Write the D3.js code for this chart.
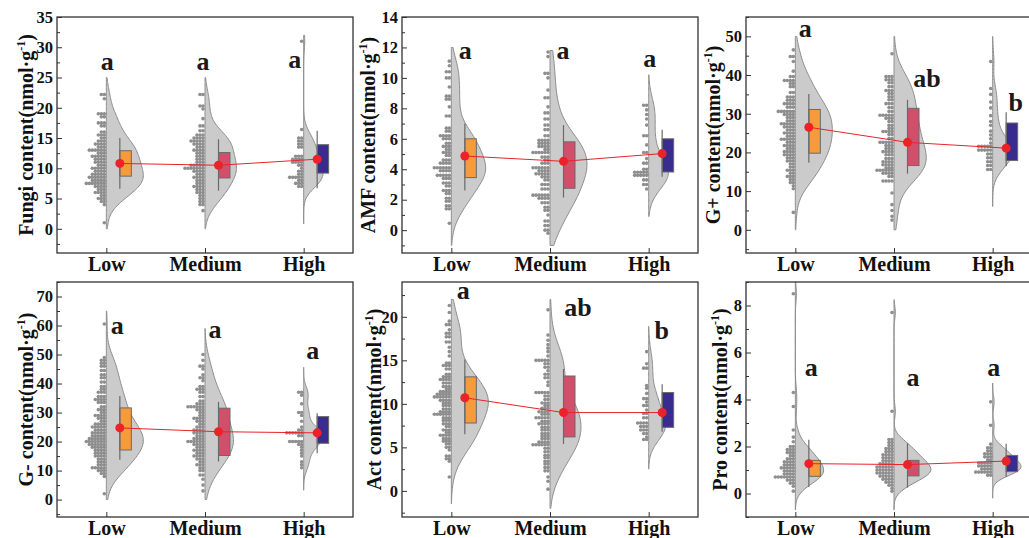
<!DOCTYPE html>
<html>
<head>
<meta charset="utf-8">
<script src="https://cdn.jsdelivr.net/npm/d3@7"></script>
<style>
  body { margin: 0; background: #fff; }
  text { font-family: "Liberation Serif", "Times New Roman", serif; font-weight: bold; }
</style>
</head>
<body>
<div id="chart"></div>
<script>
const groups = ["Low", "Medium", "High"];
const boxColors = ["#f59b3c", "#d24f6c", "#3a2b8f"];

// dot bins: [value, count]
const fungiLow = [[22.2,2],[21.5,1],[19,3],[18.5,2],[17.5,3],[17,2],[16,2],[15.5,3],[15,2],[14.5,3],[14,4],[13.5,3],[13,6],[12.5,3],[12,5],[11.5,4],[11,4],[10.5,3],[10,5],[9.5,4],[9,5],[8.5,6],[8,5],[7.5,7],[7,4],[6.5,3],[6,4],[5.5,2],[5,3],[4.5,2],[4,1],[1,1]];
const fungiMedium = [[22.2,2],[20.3,2],[19.8,1],[18.2,1],[17,2],[16.2,2],[15.5,3],[15,4],[14.5,5],[14,4],[13.5,3],[13,4],[12.5,3],[12,3],[11.5,3],[11,3],[10.5,5],[10,7],[9.5,4],[9,3],[8.5,4],[8,3],[7.5,3],[7,4],[6.5,3],[6,3],[5.5,2],[5,2],[4.5,2],[4,2],[3,1]];
const fungiHigh = [[31,1],[16.4,1],[15,2],[14.5,2],[14,2],[13.5,2],[12,3],[11.5,4],[11,4],[10.5,2],[10,1],[9.5,2],[9,2],[8.5,5],[8,2],[7.5,3],[7,2]];

const amfLow = [[11.1,1],[10.8,1],[10.4,2],[10.0,2],[9.4,1],[8.8,2],[8.6,2],[8.1,1],[7.5,2],[6.7,2],[6.5,2],[6.2,4],[6.0,3],[5.7,2],[5.5,3],[5.3,2],[5.1,3],[4.9,2],[4.6,3],[4.4,4],[4.1,6],[3.9,4],[3.6,5],[3.4,3],[3.1,3],[2.9,2],[2.6,3],[2.4,2],[2.1,2],[1.9,2],[1.6,2],[1.4,2],[0.45,1]];
const amfMedium = [[11.7,1],[11.4,1],[10.3,2],[10.0,1],[9.2,1],[8.7,2],[8.1,1],[7.7,2],[7.3,2],[6.9,2],[6.6,2],[6.2,2],[5.9,4],[5.7,4],[5.5,4],[5.3,2],[5.1,6],[4.8,3],[4.6,2],[4.4,3],[4.1,6],[3.9,4],[3.7,5],[3.5,3],[3.3,2],[3.0,3],[2.7,3],[2.3,6],[2.1,4],[1.8,3],[1.5,2],[1.3,2],[1.0,1],[0.6,2],[0.3,2],[0.0,2],[-0.2,1]];
const amfHigh = [[8.2,2],[7.9,1],[7.6,1],[7.3,1],[6.9,1],[6.2,2],[5.6,1],[5.1,2],[4.7,1],[4.4,2],[4.0,2],[3.8,5],[3.6,5],[3.3,2],[3.0,2],[2.7,1]];

const gposLow = [[46.5,1],[44.8,2],[43.5,1],[41,1],[39.6,2],[38.6,4],[37.8,2],[37,2],[35.5,2],[34.3,3],[33.5,3],[32.6,4],[31.7,3],[30.6,6],[29.8,4],[29,3],[28.2,3],[27.4,5],[26.6,4],[25.8,3],[25,4],[24.2,3],[23.4,5],[22.6,3],[21.8,4],[21,3],[20.2,4],[19.4,4],[18.6,3],[17.8,3],[17,2],[16.2,2],[15.4,3],[14.6,2],[13.8,3],[13,2],[12.2,2],[11.4,1],[10.6,1],[4.5,1]];
const gposMedium = [[45.5,1],[39.6,3],[38.8,3],[38,2],[37,2],[36,3],[35.2,2],[34.4,2],[33.6,2],[32.6,3],[31.6,2],[30.6,2],[29.6,5],[28.8,3],[28,2],[27,2],[26.2,2],[25.4,4],[24.6,2],[23.6,2],[22.6,5],[21.8,3],[21,3],[20.2,4],[19.4,3],[18.4,3],[17.6,4],[16.8,4],[16,3],[15.4,6],[14.6,4],[13.8,2],[12.6,4],[9.5,1],[6.5,1],[5,1],[3.5,1],[2.5,1]];
const gposHigh = [[43.5,1],[36.5,1],[35,1],[33,1],[31.5,1],[29.5,1],[28,1],[27,1],[25.5,1],[24.5,1],[23.5,1],[22.4,1],[21.6,5],[20.6,5],[19.6,2],[18.6,2],[17.6,2],[16.6,2],[15.6,2]];

const gnegLow = [[60.5,1],[49,1],[48,2],[47,2],[46,2],[44.5,2],[43,2],[42,2],[40.5,2],[39,2],[38,2],[37,3],[35.5,3],[34.5,4],[33.5,3],[32,2],[31,3],[30,2],[29,4],[28,3],[27,2],[26,4],[25,5],[24,4],[23,5],[22,5],[21,6],[20,7],[19,6],[18,5],[17,4],[16,4],[15,4],[14,3],[13,3],[12,3],[11,5],[10,3],[9,2],[8,1],[2,1]];
const gnegMedium = [[50,1],[48,1],[46,2],[45,1],[43,1],[42,2],[41,1],[39,2],[38,3],[37,2],[35.5,2],[34,2],[33,3],[32,6],[31,3],[30,2],[29,2],[28,4],[27,3],[26,2],[25,3],[24,4],[23,4],[22,3],[21,4],[20,6],[19,4],[18,3],[17,4],[16,3],[15,4],[14,3],[13,2],[12,3],[11,2],[10,2],[8.5,2],[7,1],[5,1],[3,1]];
const gnegHigh = [[37,2],[36,1],[33,1],[30,2],[29,1],[27,1],[25,1],[24,2],[23,6],[22,2],[20,5],[19,2],[18,1],[17,1],[16,1],[15,1],[13,1],[12,1],[11,1]];

const actLow = [[21.3,1],[20.5,1],[19.5,1],[19.1,2],[18.5,1],[18.1,2],[17.7,2],[17.1,2],[16.5,1],[16.0,1],[15.5,1],[14.7,2],[14.4,3],[14.0,2],[13.4,2],[13.1,3],[12.8,4],[12.4,3],[12.0,3],[11.7,2],[11.4,4],[11.1,5],[10.8,6],[10.4,4],[10.1,3],[9.8,3],[9.4,3],[9.1,4],[8.8,6],[8.4,3],[8.1,3],[7.7,3],[7.4,2],[7.0,3],[6.7,2],[6.4,4],[6.0,3],[5.7,3],[5.4,2],[5.0,2],[4.7,1],[4.0,2],[3.7,2],[3.4,1],[1.6,1]];
const actMedium = [[20.8,1],[17.9,1],[17.3,1],[16.8,1],[16.4,1],[16.0,1],[15.5,1],[15.0,5],[14.6,2],[14.2,2],[13.8,1],[13.4,2],[13.0,2],[12.5,1],[12.1,1],[11.3,5],[10.9,2],[10.5,2],[10.1,3],[9.8,2],[9.5,3],[9.1,4],[8.8,3],[8.4,5],[8.0,3],[7.7,4],[7.3,3],[7.0,3],[6.6,3],[6.3,3],[6.0,3],[5.6,4],[5.3,6],[4.9,2],[4.5,2],[4.1,2],[3.8,2],[3.4,2],[3.1,2],[2.7,2],[2.3,2],[1.6,1],[1.1,1],[0.2,1]];
const actHigh = [[16.0,1],[14.6,1],[14.1,2],[12.1,1],[11.8,1],[11.2,1],[10.6,2],[10.2,1],[9.8,2],[9.3,1],[8.9,2],[8.4,2],[7.8,4],[7.4,3],[7.0,3],[6.6,2],[6.2,1],[5.9,2]];

const proLow = [[8.5,1],[4.3,1],[3.7,1],[2.7,1],[2.4,1],[2.2,1],[2.0,2],[1.87,3],[1.74,3],[1.61,2],[1.48,3],[1.35,4],[1.22,4],[1.09,5],[0.96,4],[0.83,4],[0.7,7],[0.57,3],[0.44,2],[0.31,1],[0.1,1]];
const proMedium = [[7.7,1],[3.5,1],[2.3,2],[2.17,2],[2.04,2],[1.91,3],[1.78,3],[1.65,4],[1.52,4],[1.39,4],[1.26,5],[1.13,6],[1.0,6],[0.87,6],[0.74,5],[0.61,4],[0.48,3],[0.35,2],[0.22,1],[0.1,1]];
const proHigh = [[3.9,1],[2.9,1],[2.1,1],[1.95,2],[1.82,2],[1.69,3],[1.56,3],[1.43,2],[1.3,5],[1.17,5],[1.04,4],[0.91,6],[0.78,2]];

// box stats: [whisker low, Q1, Q3, whisker high, mean]
const fungiBox = [[6.6,8.7,12.9,15.0,10.8],[6.3,8.4,12.6,14.8,10.5],[6.7,9.2,13.9,16.2,11.5]];
const amfBox = [[2.6,3.45,6.0,7.0,4.87],[2.14,2.75,5.8,6.9,4.52],[3.5,3.82,6.0,6.6,5.03]];
const gposBox = [[17.3,19.8,31.1,35.1,26.5],[14.5,16.6,31.4,33.6,22.6],[16.4,17.9,27.6,30.4,21.1]];
const gnegBox = [[13.7,17.1,31.6,35.7,24.7],[13.1,15.2,31.5,33.7,23.4],[16,19.4,28.6,29.8,23.0]];
const actBox = [[6.5,7.8,13.1,15.1,10.7],[5.4,6.2,13.2,14.0,9.0],[6.8,7.3,11.3,12.25,9.0]];
const proBox = [[0.28,0.73,1.41,2.29,1.27],[0.25,0.75,1.41,2.14,1.23],[0.7,0.93,1.62,2.12,1.38]];

// violin extents [lo, hi]
const fungiViolin = [[0,25],[0,25],[0.8,32]];
const amfViolin = [[-1,12],[-1,11.8],[0.9,10.2]];
const gposViolin = [[0,50],[0,50],[6,50]];
const gnegViolin = [[0,65],[0,59],[3.2,45.6]];
const actViolin = [[-1.5,22],[-2,22],[2.5,18.9]];
const proViolin = [[-0.7,9],[-0.7,8.25],[-0.2,4.7]];

// significance letters and their heights
const fungiLetters = ["a","a","a"], fungiLetterY = [26.3,26.3,26.6];
const amfLetters = ["a","a","a"], amfLetterY = [11.26,11.26,10.7];
const gposLetters = ["a","ab","b"], gposLetterY = [49.8,37.0,30.6];
const gnegLetters = ["a","a","a"], gnegLetterY = [57,55.7,48.3];
const actLetters = ["a","ab","b"], actLetterY = [22.0,20.1,17.4];
const proLetters = ["a","a","a"], proLetterY = [5.0,4.56,5.0];

const fungiTicks = [0,5,10,15,20,25,30,35];
const amfTicks = [0,2,4,6,8,10,12,14];
const gposTicks = [0,10,20,30,40,50];
const gnegTicks = [0,10,20,30,40,50,60,70];
const actTicks = [0,5,10,15,20];
const proTicks = [0,2,4,6,8];

const panels = [
  {name:"Fungi", dots:[fungiLow,fungiMedium,fungiHigh], box:fungiBox, violin:fungiViolin, letters:fungiLetters, letterY:fungiLetterY, ticks:fungiTicks, domain:[-4,35], minor:2.5, x0:57, y0:17, y1:253, titleDx:24, letterDx:[1,-2,-9]},
  {name:"AMF", dots:[amfLow,amfMedium,amfHigh], box:amfBox, violin:amfViolin, letters:amfLetters, letterY:amfLetterY, ticks:amfTicks, domain:[-1.5,14], minor:1, x0:402, y0:17, y1:253, titleDx:27, letterDx:[14,13,1]},
  {name:"G+", dots:[gposLow,gposMedium,gposHigh], box:gposBox, violin:gposViolin, letters:gposLetters, letterY:gposLetterY, ticks:gposTicks, domain:[-6,55], minor:5, x0:746, y0:17, y1:253, titleDx:26, letterDx:[10,33,23]},
  {name:"G-", dots:[gnegLow,gnegMedium,gnegHigh], box:gnegBox, violin:gnegViolin, letters:gnegLetters, letterY:gnegLetterY, ticks:gnegTicks, domain:[-6,75], minor:5, x0:57, y0:282, y1:517, titleDx:24, letterDx:[11,10,9]},
  {name:"Act", dots:[actLow,actMedium,actHigh], box:actBox, violin:actViolin, letters:actLetters, letterY:actLetterY, ticks:actTicks, domain:[-3,24], minor:2.5, x0:402, y0:282, y1:517, titleDx:21, letterDx:[12,28,13]},
  {name:"Pro", dots:[proLow,proMedium,proHigh], box:proBox, violin:proViolin, letters:proLetters, letterY:proLetterY, ticks:proTicks, domain:[-1,9], minor:1, x0:746, y0:282, y1:517, titleDx:19, letterDx:[16,19,1]}
];

const W = 1029, H = 538, panelW = 296;

const svg = d3.select("#chart").append("svg").attr("width", W).attr("height", H);

// expand bins to values
function expand(bins) {
  const v = [];
  bins.forEach(([val, c]) => { for (let i = 0; i < c; i++) v.push(val); });
  return v;
}

function kde(values, h) {
  const k = 1 / (h * Math.sqrt(2 * Math.PI));
  return (y) => d3.sum(values, (v) => k * Math.exp(-0.5 * ((y - v) / h) ** 2));
}

panels.forEach((p) => {
  const x = d3.scaleLinear().domain([0.5, 3.5]).range([p.x0, p.x0 + panelW]);
  const y = d3.scaleLinear().domain(p.domain).range([p.y1, p.y0]);
  const g = svg.append("g");

  // violins (area scaled by count)
  const shapes = p.dots.map((bins, i) => {
    const vals = expand(bins).sort(d3.ascending);
    const sd = d3.deviation(vals);
    const iqr = d3.quantile(vals, 0.75) - d3.quantile(vals, 0.25);
    const h = 1.06 * Math.min(sd, iqr / 1.34) * Math.pow(vals.length, -0.2);
    const f = kde(vals, h);
    const [lo, hi] = p.violin[i];
    return d3.range(0, 121).map((j) => {
      const v = lo + (hi - lo) * j / 120;
      return [v, f(v)];
    });
  });
  const maxD = d3.max(shapes, (s) => d3.max(s, (d) => d[1]));
  const wScale = d3.scaleLinear().domain([0, maxD]).range([0, 37]);

  shapes.forEach((pts, i) => {
    const cx = x(i + 1);
    g.append("path")
      .datum(pts)
      .attr("fill", "#cbcbcb")
      .attr("stroke", "#8c8c8c")
      .attr("stroke-width", 1)
      .attr("d", d3.area().x0(cx).x1((d) => cx + wScale(d[1])).y((d) => y(d[0])).curve(d3.curveBasis));
  });

  // dots
  p.dots.forEach((bins, i) => {
    const cx = x(i + 1);
    bins.forEach(([v, c]) => {
      for (let j = 0; j < c; j++) {
        g.append("circle")
          .attr("cx", cx - 2 - j * 3)
          .attr("cy", y(v))
          .attr("r", 1.8)
          .attr("fill", "#8e8e8e");
      }
    });
  });

  // boxes and whiskers
  p.box.forEach((b, i) => {
    const bx = x(i + 1) + 13.5;
    g.append("rect")
      .attr("x", bx)
      .attr("y", y(b[2]))
      .attr("width", 11.5)
      .attr("height", y(b[1]) - y(b[2]))
      .attr("fill", boxColors[i])
      .attr("stroke", "#6a6a6a")
      .attr("stroke-width", 1);
    g.append("line")
      .attr("x1", bx).attr("x2", bx)
      .attr("y1", y(b[0])).attr("y2", y(b[3]))
      .attr("stroke", "#6a6a6a")
      .attr("stroke-width", 1.2);
  });

  // mean line + dots
  const meanLine = d3.line().x((d, i) => x(i + 1) + 13.5).y((d) => y(d[4]));
  g.append("path")
    .datum(p.box)
    .attr("fill", "none")
    .attr("stroke", "#e8232a")
    .attr("stroke-width", 1)
    .attr("d", meanLine);
  g.selectAll(".mean")
    .data(p.box)
    .enter()
    .append("circle")
    .attr("cx", (d, i) => x(i + 1) + 13.5)
    .attr("cy", (d) => y(d[4]))
    .attr("r", 4.5)
    .attr("fill", "#ec2228");

  // letters
  p.letters.forEach((t, i) => {
    g.append("text")
      .attr("x", x(i + 1) + p.letterDx[i])
      .attr("y", y(p.letterY[i]))
      .attr("text-anchor", "middle")
      .style("font-size", "26px")
      .attr("fill", "#1a1a1a")
      .text(t);
  });

  // frame
  g.append("rect")
    .attr("x", p.x0)
    .attr("y", p.y0)
    .attr("width", panelW)
    .attr("height", p.y1 - p.y0)
    .attr("fill", "none")
    .attr("stroke", "#333")
    .attr("stroke-width", 1.3);

  // y axis: minor then major ticks, pointing inward
  const mt = [];
  for (let v = Math.ceil(p.domain[0] / p.minor) * p.minor; v <= p.domain[1] + 1e-9; v += p.minor) {
    if (!p.ticks.some((t) => Math.abs(t - v) < 1e-9)) mt.push(v);
  }
  g.append("g")
    .attr("transform", `translate(${p.x0},0)`)
    .call(d3.axisLeft(y).tickValues(mt).tickSize(-3).tickFormat(""))
    .call((a) => a.select(".domain").remove())
    .call((a) => a.selectAll("line").attr("stroke", "#333"));
  g.append("g")
    .attr("transform", `translate(${p.x0},0)`)
    .call(d3.axisLeft(y).tickValues(p.ticks).tickSize(-5).tickPadding(4).tickFormat((d) => d))
    .call((a) => a.select(".domain").remove())
    .call((a) => a.selectAll("line").attr("stroke", "#333"))
    .call((a) => a.selectAll("text").style("font-size", "16.5px").attr("fill", "#111").style("font-family", "'Liberation Serif', serif").style("font-weight", "bold"));

  // x axis
  g.append("g")
    .attr("transform", `translate(0,${p.y1})`)
    .call(d3.axisBottom(x).tickValues([1, 2, 3]).tickSize(-5).tickPadding(8).tickFormat((d) => groups[d - 1]))
    .call((a) => a.select(".domain").remove())
    .call((a) => a.selectAll("line").attr("stroke", "#333"))
    .call((a) => a.selectAll("text").attr("dy", null).attr("y", 18).style("font-size", "20px").attr("fill", "#111").style("font-family", "'Liberation Serif', serif").style("font-weight", "bold"));

  // y title
  const ty = (p.y0 + p.y1) / 2;
  const tx = p.x0 - p.titleDx;
  const title = g.append("text")
    .attr("transform", `translate(${tx},${ty}) rotate(-90)`)
    .attr("text-anchor", "middle")
    .style("font-size", "20px")
    .attr("fill", "#111");
  title.append("tspan").text(`${p.name} content(nmol·g`);
  title.append("tspan").attr("dy", -8).style("font-size", "12px").text("-1");
  title.append("tspan").attr("dy", 8).text(")");
});
</script>
</body>
</html>
